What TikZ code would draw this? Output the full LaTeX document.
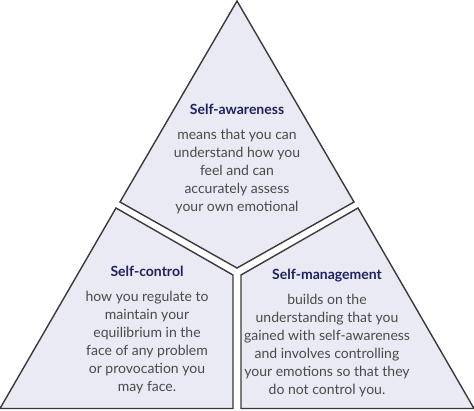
\documentclass[tikz,border=0pt]{standalone}
\usepackage{fontspec}
\setmainfont{Lato}
\usetikzlibrary{positioning}

\definecolor{piecefill}{HTML}{E9EAF3}
\definecolor{pieceline}{HTML}{3A3A3A}
\definecolor{titleblue}{HTML}{1F2060}
\definecolor{bodygray}{HTML}{4A4A4A}

\begin{document}
\begin{tikzpicture}[
    x=1pt, y=-1pt,
    piece/.style={draw=pieceline, fill=piecefill, line width=1.4pt, line join=miter},
    title/.style={inner sep=0pt, anchor=base, font=\bfseries\fontsize{14}{18}\selectfont, text=titleblue},
    body/.style={inner sep=0pt, align=center, font=\fontsize{14}{18}\selectfont, text=bodygray}
]
\useasboundingbox (0,0) rectangle (474,410);

% the three pieces of the triangle
\draw[piece] (237,1) -- (354,202) -- (237,268) -- (120,202) -- cycle;
\draw[piece] (116,208) -- (233,275) -- (233,408.5) -- (0,408.5) -- cycle;
\draw[piece] (358,208) -- (241,275) -- (241,408.5) -- (474,408.5) -- cycle;

\node[title] (aware) at (237,114) {Self-awareness};
\node[body, below=15pt of aware] (awaretext) {means that you can\\understand how you\\feel and can\\accurately assess\\your own emotional};

\node[title] (control) at (147,276) {Self-control};
\node[body, below=15pt of control] (controltext) {how you regulate to\\maintain your\\equilibrium in the\\face of any problem\\or provocation you\\may face.};

\node[title] (manage) at (327,279) {Self-management};
\node[body, below=12pt of manage] (managetext) {builds on the\\understanding that you\\gained with self-awareness\\and involves controlling\\your emotions so that they\\do not control you.};
\end{tikzpicture}
\end{document}
